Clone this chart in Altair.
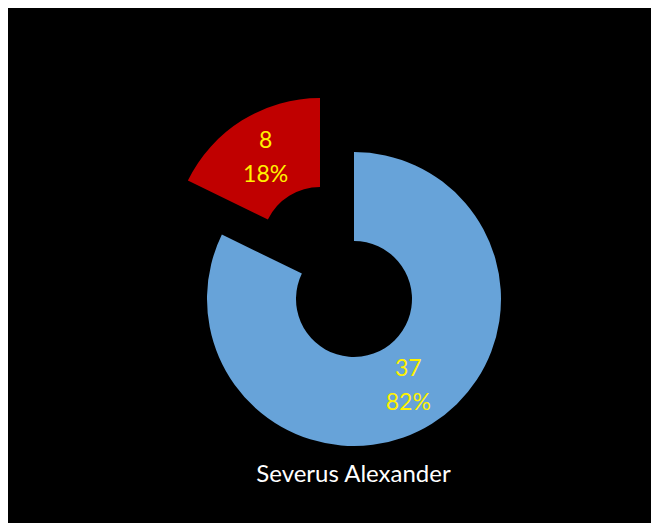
import math
import altair as alt
import pandas as pd

# ---- data ----
categories = ["Rest", "Severus Alexander"]
values = [37, 8]
colors = ["#67A3D9", "#C00000"]
title_text = "Severus Alexander"
exploded = "Severus Alexander"

df = pd.DataFrame({"category": categories, "value": values,
                   "order": list(range(len(values)))})

# ---- layout / style ----
W, H = 643, 515
CX, CY = 346, 291
R_OUT, R_IN = 147, 58
R_LABEL = (R_OUT + R_IN) / 2
EXPLODE_DX, EXPLODE_DY = -34, -54
LABEL_COLOR = "#FFF200"
FONT = "Lato"

base = (
    alt.Chart(df)
    .transform_joinaggregate(total="sum(value)")
    .transform_window(cum="sum(value)", sort=[alt.SortField("order")], frame=[None, 0])
    .transform_calculate(
        start="(datum.cum - datum.value) / datum.total",
        end="datum.cum / datum.total",
        mid="(datum.cum - datum.value / 2) / datum.total",
        label="datum.value + '\\n' + round(datum.value / datum.total * 100) + '%'",
    )
)

theta_scale = alt.Scale(domain=[0, 1], range=[0, 2 * math.pi])
color = alt.Color("category:N", scale=alt.Scale(domain=categories, range=colors), legend=None)


def layer_for(filter_expr, dx, dy):
    sub = base.transform_filter(filter_expr)
    arcs = sub.mark_arc(radius=R_OUT, radius2=R_IN, xOffset=dx, yOffset=dy).encode(
        theta=alt.Theta("start:Q", scale=theta_scale, stack=None),
        theta2="end:Q",
        color=color,
        x=alt.value(CX),
        y=alt.value(CY),
    )
    labels = sub.mark_text(
        radius=R_LABEL, lineBreak="\n", fontSize=23, font=FONT, color=LABEL_COLOR,
        lineHeight=34, baseline="middle", align="center", xOffset=dx, yOffset=dy, dy=-17,
    ).encode(
        theta=alt.Theta("mid:Q", scale=theta_scale, stack=None),
        text="label:N",
        x=alt.value(CX),
        y=alt.value(CY),
    )
    return [arcs, labels]


layers = (layer_for(alt.datum.category != exploded, 0, 0)
          + layer_for(alt.datum.category == exploded, EXPLODE_DX, EXPLODE_DY))

chart = (
    alt.layer(*layers)
    .properties(
        width=W,
        height=H,
        padding=0,
        autosize=alt.AutoSizeParams(type="none"),
        background="black",
        title=alt.TitleParams(
            title_text, orient="bottom", anchor="middle", frame="group",
            baseline="alphabetic", offset=-41, dx=24, font=FONT, fontSize=24,
            fontWeight="normal", color="white",
        ),
    )
    .configure_view(stroke=None)
)

chart.save("out.html", embed_options={"renderer": "svg", "actions": False})
